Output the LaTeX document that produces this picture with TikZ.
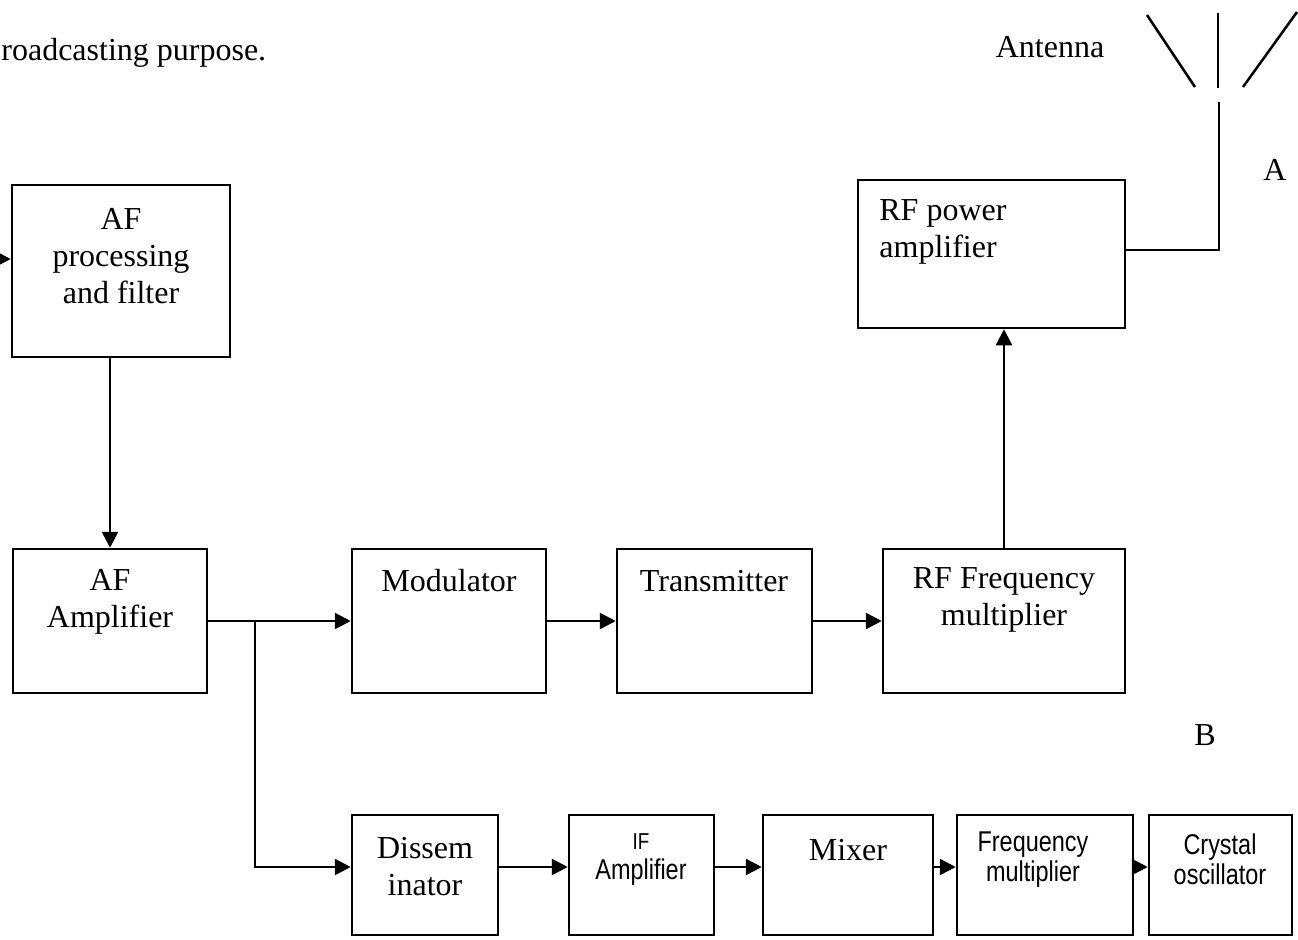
\documentclass[tikz,border=0pt]{standalone}
\usepackage{fontspec}
\setmainfont{Liberation Serif}
\newfontfamily\narrowsans[FakeStretch=0.82]{Liberation Sans}
\usetikzlibrary{arrows.meta}
\begin{document}
\begin{tikzpicture}[x=0.5pt,y=-0.5pt,
  box/.style={draw,line width=1.25pt,inner sep=0pt},
  txt/.style={font=\fontsize{16}{18.5}\selectfont,align=center,inner sep=0pt},
  sml/.style={font=\narrowsans\fontsize{14.3}{15}\selectfont,align=center,inner sep=0pt},
  wire/.style={line width=1.25pt},
  arr/.style={line width=1.25pt,-{Triangle[length=8pt,width=8pt]}}]
\useasboundingbox (0,0) rectangle (1298,939);
% boxes
\node[box,minimum width=109pt,minimum height=86pt] (afp) at (121,271) {};
\node[box,minimum width=97pt,minimum height=72pt] (afa) at (110,621) {};
\node[box,minimum width=97pt,minimum height=72pt] (mod) at (449,621) {};
\node[box,minimum width=97.5pt,minimum height=72pt] (tra) at (714.5,621) {};
\node[box,minimum width=121pt,minimum height=72pt] (rff) at (1004,621) {};
\node[box,minimum width=133.5pt,minimum height=74pt] (rfp) at (991.5,254) {};
\node[box,minimum width=73pt,minimum height=60pt] (dis) at (425,875) {};
\node[box,minimum width=72.5pt,minimum height=60pt] (ifa) at (641.5,875) {};
\node[box,minimum width=85pt,minimum height=60pt] (mix) at (848,875) {};
\node[box,minimum width=88pt,minimum height=60pt] (fm) at (1045,875) {};
\node[box,minimum width=71.5pt,minimum height=60pt] (cry) at (1220.5,875) {};
% texts
\node[txt,anchor=base west] (head) at (1,60) {roadcasting purpose.};
\node[txt] (antl) at (1050,47) {Antenna};
\node[txt] (la) at (1275,170) {A};
\node[txt] (lb) at (1205,735) {B};
\node[txt] (afpt) at (121,256) {AF\\processing\\and filter};
\node[txt] (afat) at (110,602) {AF\\Amplifier};
\node[txt] (modt) at (449,581) {Modulator};
\node[txt] (trat) at (714,581) {Transmitter};
\node[txt] (rfft) at (1004,600) {RF Frequency\\multiplier};
\node[txt,align=left,anchor=west] (rfpt) at (879,232) {RF power\\amplifier};
\node[txt] (dist) at (425,867) {Dissem\\inator};
\node[sml] (ifat) at (641,860) {{\fontsize{11.5}{13}\selectfont IF}\\Amplifier};
\node[txt] (mixt) at (848,850) {Mixer};
\node[sml] (fmt) at (1033,860) {Frequency\\multiplier};
\node[sml] (cryt) at (1220,859) {Crystal\\oscillator};
% connectors
\coordinate (in) at (0,259);
\draw[arr] (in) -- (in -| afp.west);
\draw[arr] (afa.north |- afp.south) -- (afa.north);
\draw[arr] (afa) -- (mod);
\coordinate (br) at (255,621);
\draw[arr] (br) |- ([yshift=4pt]dis.west);
\draw[arr] (mod) -- (tra);
\draw[arr] (tra) -- (rff);
\draw[arr] (rff.north) -- (rff.north |- rfp.south);
\coordinate (feed) at (1219,102);
\draw[wire] ([yshift=2pt]rfp.east) -| (feed);
\draw[arr] ([yshift=4pt]dis.east) -- ([yshift=4pt]ifa.west);
\draw[arr] ([yshift=4pt]ifa.east) -- ([yshift=4pt]mix.west);
\draw[arr] ([yshift=4pt]mix.east) -- ([yshift=4pt]fm.west);
\draw[arr] ([yshift=4pt]fm.east) -- ([yshift=4pt]cry.west);
% antenna
\coordinate (a1) at (1218,13); \coordinate (a2) at (1218,88);
\coordinate (b1) at (1147,15); \coordinate (b2) at (1195,87);
\coordinate (c1) at (1297,12); \coordinate (c2) at (1243,87);
\draw[wire] (a1) -- (a2);
\draw[wire] (b1) -- (b2);
\draw[wire] (c1) -- (c2);
\end{tikzpicture}
\end{document}
